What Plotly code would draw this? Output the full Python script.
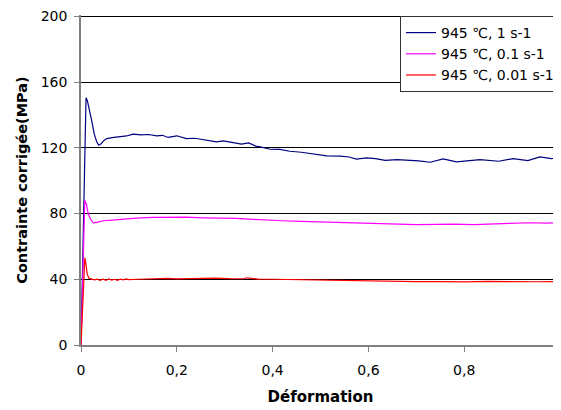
import plotly.graph_objects as go

# Déformation / Contrainte values
x_1 = [0, 0.003, 0.006, 0.0085, 0.0105, 0.013, 0.017, 0.022, 0.028, 0.033, 0.037, 0.042, 0.048, 0.054,
       0.065, 0.082, 0.095, 0.109, 0.125, 0.141, 0.158, 0.17, 0.182, 0.2, 0.22, 0.238, 0.255, 0.27, 0.283,
       0.297, 0.315, 0.335, 0.35, 0.365, 0.374, 0.39, 0.395, 0.415, 0.436, 0.46, 0.49, 0.513, 0.541, 0.56,
       0.575, 0.596, 0.615, 0.635, 0.66, 0.68, 0.705, 0.729, 0.756, 0.784, 0.81, 0.833, 0.872, 0.902,
       0.933, 0.958, 0.982, 1.0]
y_1 = [0, 45, 105, 140, 150.5, 149, 144, 137, 128, 123.5, 121.6, 122.5, 124.5, 125.6,
       126.2, 126.6, 127.2, 128.3, 127.8, 128.1, 127.3, 127.6, 126.3, 127.3, 125.6, 125.8, 125, 124.6, 123.6,
       124.2, 123.2, 122.2, 123, 121, 120.6, 119.4, 119.1, 119.0, 117.9, 117.3, 116.2, 115.1, 114.9, 114.4,
       113.1, 113.9, 113.4, 112.3, 112.8, 112.6, 112.0, 111.2, 113.2, 111.4, 112.2, 112.8, 111.8, 113.4,
       112.2, 114.5, 113.4, 114.6]

x_01 = [0, 0.003, 0.006, 0.0079, 0.011, 0.015, 0.02, 0.026, 0.035, 0.047, 0.065, 0.081, 0.1, 0.116,
        0.15, 0.175, 0.195, 0.22, 0.255, 0.29, 0.324, 0.36, 0.39, 0.42, 0.46, 0.5, 0.54, 0.58, 0.62,
        0.66, 0.7, 0.74, 0.78, 0.82, 0.86, 0.9, 0.94, 0.97, 1.0]
y_01 = [0, 40, 75, 88, 86, 80, 76.5, 74.3, 74.8, 75.6, 76.0, 76.4, 76.9, 77.2,
        77.6, 77.7, 78.0, 77.8, 77.4, 77.3, 77.0, 76.4, 75.8, 75.6, 75.2, 74.8, 74.6, 74.3, 74.0,
        73.6, 73.2, 73.4, 73.6, 73.3, 73.8, 74.2, 74.4, 74.2, 74.5]

x_001 = [0, 0.003, 0.006, 0.008, 0.01, 0.013, 0.017, 0.022, 0.028, 0.034, 0.04, 0.046, 0.052, 0.058,
         0.064, 0.07, 0.076, 0.082, 0.088, 0.094, 0.1, 0.12, 0.15, 0.18, 0.2, 0.23, 0.26, 0.28, 0.31,
         0.34, 0.345, 0.37, 0.4, 0.44, 0.48, 0.5, 0.52, 0.56, 0.6, 0.65, 0.7, 0.75, 0.8, 0.85, 0.9,
         0.95, 1.0]
y_001 = [0, 22, 45, 53, 50, 43, 40.5, 40.2, 39.6, 40.1, 39.4, 40.0, 39.3, 40.2,
         39.5, 40.0, 39.4, 40.1, 39.6, 40.2, 39.8, 40.0, 40.3, 40.5, 40.2, 40.4, 40.3, 40.7, 40.4,
         40.3, 40.9, 40.1, 40.0, 39.8, 39.6, 39.7, 39.2, 39.3, 39.1, 38.8, 38.6, 38.6, 38.4, 38.7, 38.5,
         38.5, 38.6]

series_names = ["945 \u2103, 1 s-1", "945 \u2103, 0.1 s-1", "945 \u2103, 0.01 s-1"]
x_ticks = [0, 0.2, 0.4, 0.6, 0.8, 1]
x_tick_labels = ["0", "0,2", "0,4", "0,6", "0,8", "1"]
y_ticks = [0, 40, 80, 120, 160, 200]

FONT = "DejaVu Sans, Liberation Sans, sans-serif"

fig = go.Figure()
fig.add_trace(go.Scatter(x=x_1, y=y_1, mode="lines", name=series_names[0],
                         line=dict(color="#000080", width=1.2)))
fig.add_trace(go.Scatter(x=x_01, y=y_01, mode="lines", name=series_names[1],
                         line=dict(color="#FF00FF", width=1.2)))
fig.add_trace(go.Scatter(x=x_001, y=y_001, mode="lines", name=series_names[2],
                         line=dict(color="#FF0000", width=1.2)))

fig.update_layout(
    width=561, height=410,
    margin=dict(l=73, r=9, t=7, b=73, autoexpand=False),
    paper_bgcolor="white", plot_bgcolor="white",
    font=dict(family=FONT, size=14, color="black"),
    showlegend=True,
    legend=dict(x=1.0, y=0.997, xanchor="right", yanchor="top",
                bgcolor="white", bordercolor="#333333", borderwidth=1,
                font=dict(size=14, family=FONT), itemwidth=30,
                tracegroupgap=0),
    xaxis=dict(range=[0, 1], tickvals=x_ticks, ticktext=x_tick_labels, automargin=False,
               showgrid=False, zeroline=False, showline=True, linecolor="#808080",
               linewidth=1.5, ticks="outside", ticklen=5, tickcolor="#808080",
               tickfont=dict(size=14), ticklabelstandoff=6, ticklabeloverflow="allow",
               title=dict(text="<b>Déformation</b>", font=dict(size=15), standoff=15)),
    yaxis=dict(range=[0, 200.8], tickvals=y_ticks, automargin=False,
               showgrid=True, gridcolor="black", gridwidth=1, zeroline=False,
               showline=True, linecolor="#808080", linewidth=1.5,
               ticks="outside", ticklen=5, tickcolor="#808080",
               tickfont=dict(size=14), ticklabelstandoff=4, ticklabeloverflow="allow",
               title=dict(text="<b>Contrainte corrigée(MPa)</b>", font=dict(size=14.5), standoff=10)),
)

fig.write_html("out.html")
